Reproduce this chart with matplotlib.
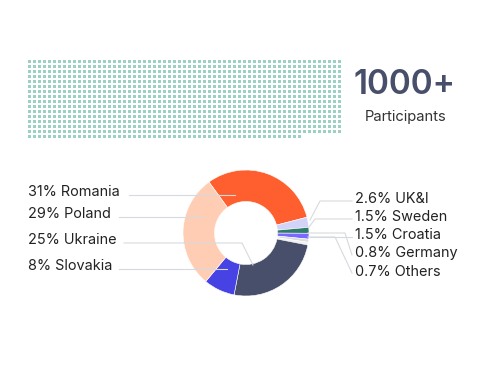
import matplotlib.pyplot as plt
import numpy as np

plt.rcParams['font.family'] = ['Inter', 'DejaVu Sans']

# data
participants = 1000
grid_cols = 63
countries = ['Romania', 'UK&I', 'Sweden', 'Croatia', 'Germany', 'Others', 'Ukraine', 'Slovakia', 'Poland']
shares = [31, 2.6, 1.5, 1.5, 0.8, 0.7, 25, 8, 29]
colors = ['#FF5F2E', '#D3D3FA', '#2E7D6B', '#7B68FF', '#D9DCE0', '#F1F1F1', '#474F6B', '#4642E3', '#FFCDB3']
left_labels = ['Romania', 'Poland', 'Ukraine', 'Slovakia']
right_labels = ['UK&I', 'Sweden', 'Croatia', 'Germany', 'Others']

W, H = 485, 365
fig = plt.figure(figsize=(W / 100, H / 100), dpi=100)
ax = fig.add_axes([0, 0, 1, 1])
ax.set_xlim(0, W)
ax.set_ylim(0, H)
ax.set_aspect('equal')
ax.axis('off')

def Y(y):
    return H - y

# waffle of participants, one 3x3 px cell per person
idx = np.arange(participants)
gx = 28 + (idx % grid_cols) * 5
gy = 60 + (idx // grid_cols) * 5
ax.bar(gx, 3, width=3, bottom=Y(gy + 3), align='edge', color='#9AD1C4', linewidth=0)

ax.text(405, Y(85), f'{participants}+', fontsize=24, fontweight='semibold', color='#474F6B',
        ha='center', va='center')
ax.text(405.5, Y(117), 'Participants', fontsize=10.6, color='#333333', ha='center', va='center')

# donut
cx, cy, R = 246, 233, 63
wedges, _ = ax.pie(shares, colors=colors, startangle=126, counterclock=False,
                   center=(cx, Y(cy)), radius=R, frame=True,
                   wedgeprops=dict(width=R * 0.5, edgecolor='white', linewidth=0.4))
ax.set_xlim(0, W)
ax.set_ylim(0, H)
ax.axis('off')

line_c = '#D6DADE'
lw = 0.8
fs = 10.4

# left labels
left_y = [195, 217, 243, 269]
left_start = [129, 119, 124, 119]
left_end = [[(235, 195)], [(202, 217)], [(242, 243), (253, 265)], [(227, 269)]]
for name, y, x0, pts in zip(left_labels, left_y, left_start, left_end):
    v = shares[countries.index(name)]
    ax.text(28, Y(y - 3), f'{v:g}% {name}', fontsize=fs, color='#222222', ha='left', va='center')
    xs = [x0] + [p[0] for p in pts]
    ys = [Y(y)] + [Y(p[1]) for p in pts]
    ax.plot(xs, ys, color=line_c, lw=lw, zorder=3)

# right labels
right_y = [201, 219, 237, 255, 273]
right_paths = [
    [(310, 220), (320, 201)],
    [(309, 227), (315, 219)],
    [(310, 237)],
    [(308, 233), (345, 233)],
    [(308, 237), (335, 237)],
]
for name, y, pts in zip(right_labels, right_y, right_paths):
    v = shares[countries.index(name)]
    ax.text(355, Y(y - 1.5), f'{v:g}% {name}', fontsize=fs, color='#222222', ha='left', va='center')
    xs = [p[0] for p in pts] + [352]
    ys = [Y(p[1]) for p in pts] + [Y(y)]
    ax.plot(xs, ys, color=line_c, lw=lw, zorder=3)

fig.savefig('out.png', dpi=100, facecolor='white')
